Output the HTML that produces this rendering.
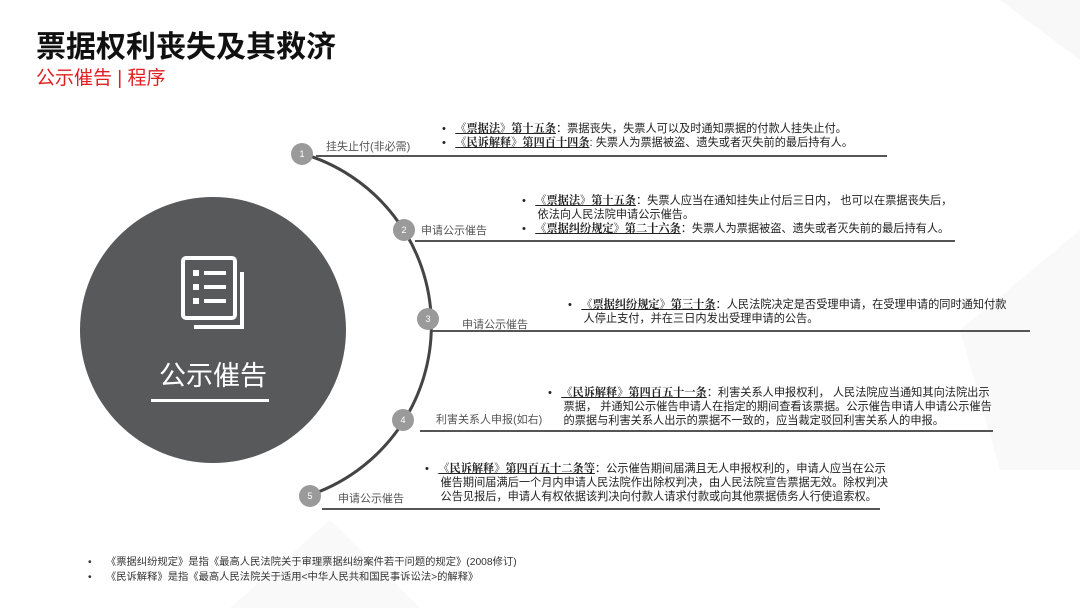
<!DOCTYPE html>
<html><head><meta charset="utf-8"><style>
body{margin:0;width:1080px;height:608px;overflow:hidden;background:#fff;position:relative;font-family:"Liberation Sans","Noto Sans CJK SC",sans-serif;color:#222}
.a{position:absolute;white-space:nowrap}
.t{font-size:11.2px;line-height:14px}
.t b{text-decoration:underline;font-family:"Liberation Serif","Noto Serif CJK SC",serif}
.lbl{font-size:11px;color:#555}
.ln{position:absolute;height:1.5px;background:#555}
</style></head><body>
<svg class="a" style="left:0;top:0" width="1080" height="608">
<polygon points="1000,0 1080,0 1080,60" fill="#f8f8f8"/>
<polygon points="960,330 1080,230 1080,470 1000,470" fill="#f9f9f9"/>
<polygon points="230,608 330,520 420,608" fill="#f9f9f9"/>
<path d="M300,153 A179,179 0 0 1 307,496" fill="none" stroke="#444" stroke-width="3"/>
<circle cx="213" cy="330" r="133" fill="#58595b"/>
<g fill="none" stroke="#fff" stroke-width="4">
<rect x="183" y="258" width="52" height="60" rx="3"/>
<path d="M242,272 v55 h-48"/>
</g>
<g fill="#fff"><rect x="193" y="270" width="6" height="6"/><rect x="204" y="271" width="22" height="4"/>
<rect x="193" y="284" width="6" height="6"/><rect x="204" y="285" width="22" height="4"/>
<rect x="193" y="298" width="6" height="6"/><rect x="204" y="299" width="22" height="4"/></g>
<rect x="151" y="399" width="118" height="3" fill="#fff"/>
<g fill="#9a9a9a"><circle cx="302" cy="154" r="11"/><circle cx="404" cy="230" r="11"/><circle cx="428" cy="319" r="11"/><circle cx="403" cy="420" r="11"/><circle cx="310" cy="496" r="11"/></g>
<g fill="#fff" font-size="9" text-anchor="middle" font-family="Liberation Sans"><text x="302" y="157">1</text><text x="404" y="233">2</text><text x="428" y="322">3</text><text x="403" y="423">4</text><text x="310" y="499">5</text></g>
</svg>
<div class="a" style="left:159px;top:354px;font-size:27px;color:#fff">公示催告</div>
<div class="a" style="left:36px;top:22px;font-size:30px;font-weight:bold;color:#111">票据权利丧失及其救济</div>
<div class="a" style="left:36px;top:63px;font-size:19px;color:#e02020">公示催告 | 程序</div>

<div class="ln" style="left:316px;top:155px;width:571px"></div>
<div class="ln" style="left:415px;top:240px;width:540px"></div>
<div class="ln" style="left:432px;top:330px;width:598px"></div>
<div class="ln" style="left:420px;top:430px;width:573px"></div>
<div class="ln" style="left:322px;top:508px;width:558px"></div>

<div class="a lbl" style="left:326px;top:138px">挂失止付(非必需)</div>
<div class="a lbl" style="left:421px;top:222px">申请公示催告</div>
<div class="a lbl" style="left:462px;top:316px">申请公示催告</div>
<div class="a lbl" style="left:436px;top:411px">利害关系人申报(如右)</div>
<div class="a lbl" style="left:338px;top:490px">申请公示催告</div>

<div class="a t" style="left:442px;top:122px">•&nbsp;&nbsp;&nbsp;<b>《票据法》第十五条</b>：票据丧失，失票人可以及时通知票据的付款人挂失止付。<br>•&nbsp;&nbsp;&nbsp;<b>《民诉解释》第四百十四条</b>: 失票人为票据被盗、遗失或者灭失前的最后持有人。</div>
<div class="a t" style="left:522px;top:194px">•&nbsp;&nbsp;&nbsp;<b>《票据法》第十五条</b>：失票人应当在通知挂失止付后三日内， 也可以在票据丧失后，<br>&nbsp;&nbsp;&nbsp;&nbsp;&nbsp;依法向人民法院申请公示催告。<br>•&nbsp;&nbsp;&nbsp;<b>《票据纠纷规定》第二十六条</b>：失票人为票据被盗、遗失或者灭失前的最后持有人。</div>
<div class="a t" style="left:568px;top:298px">•&nbsp;&nbsp;&nbsp;<b>《票据纠纷规定》第三十条</b>：人民法院决定是否受理申请，在受理申请的同时通知付款<br>&nbsp;&nbsp;&nbsp;&nbsp;&nbsp;人停止支付，并在三日内发出受理申请的公告。</div>
<div class="a t" style="left:548px;top:386px">•&nbsp;&nbsp;&nbsp;<b>《民诉解释》第四百五十一条</b>：利害关系人申报权利， 人民法院应当通知其向法院出示<br>&nbsp;&nbsp;&nbsp;&nbsp;&nbsp;票据， 并通知公示催告申请人在指定的期间查看该票据。公示催告申请人申请公示催告<br>&nbsp;&nbsp;&nbsp;&nbsp;&nbsp;的票据与利害关系人出示的票据不一致的，应当裁定驳回利害关系人的申报。</div>
<div class="a t" style="left:425px;top:462px">•&nbsp;&nbsp;&nbsp;<b>《民诉解释》第四百五十二条等</b>：公示催告期间届满且无人申报权利的，申请人应当在公示<br>&nbsp;&nbsp;&nbsp;&nbsp;&nbsp;催告期间届满后一个月内申请人民法院作出除权判决，由人民法院宣告票据无效。除权判决<br>&nbsp;&nbsp;&nbsp;&nbsp;&nbsp;公告见报后，申请人有权依据该判决向付款人请求付款或向其他票据债务人行使追索权。</div>

<div class="a" style="left:88px;top:555px;font-size:10.3px;line-height:15px;color:#333">•&nbsp;&nbsp;&nbsp;&nbsp;&nbsp;《票据纠纷规定》是指《最高人民法院关于审理票据纠纷案件若干问题的规定》(2008修订)<br>•&nbsp;&nbsp;&nbsp;&nbsp;&nbsp;《民诉解释》是指《最高人民法院关于适用&lt;中华人民共和国民事诉讼法&gt;的解释》</div>
</body></html>
